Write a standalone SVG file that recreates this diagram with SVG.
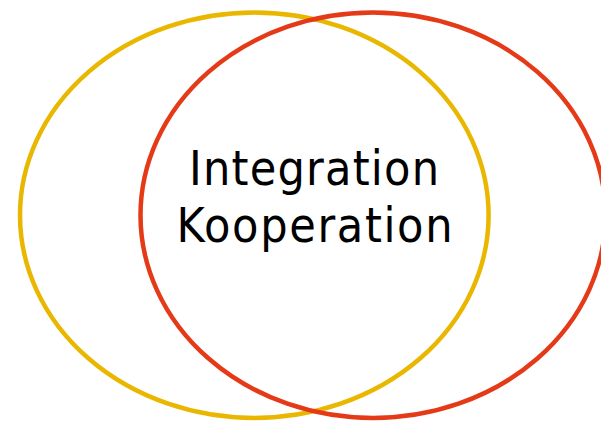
<svg xmlns="http://www.w3.org/2000/svg" width="601" height="422" viewBox="0 0 601 422">
<style>
.ring{fill:none;stroke-width:4.5}
.lbl{font-family:"DejaVu Sans Condensed","DejaVu Sans","Liberation Sans",sans-serif;font-stretch:condensed;font-size:48px;fill:#000}
</style>
<rect width="601" height="422" fill="#fff"/>
<g id="integration-circle"><ellipse class="ring" cx="254.3" cy="215.2" rx="234.3" ry="202.7" stroke="#EAB700"/></g>
<g id="kooperation-circle"><ellipse class="ring" cx="373" cy="215.2" rx="232.5" ry="202.7" stroke="#E53A17"/></g>
<g id="labels">
<text class="lbl" x="314" y="185" text-anchor="middle" textLength="250" lengthAdjust="spacing">Integration</text>
<text class="lbl" x="314.5" y="242" text-anchor="middle" textLength="276" lengthAdjust="spacing">Kooperation</text>
</g>
</svg>
